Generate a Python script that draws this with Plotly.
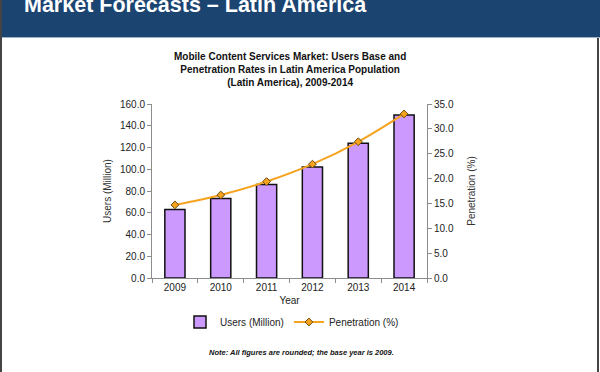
import plotly.graph_objects as go

years = ["2009", "2010", "2011", "2012", "2013", "2014"]
users = [63.0, 73.0, 86.0, 102.0, 124.0, 150.0]
penetration = [14.7, 16.7, 19.4, 22.9, 27.4, 33.0]
y_ticks = [0, 20, 40, 60, 80, 100, 120, 140, 160]
y2_ticks = [0, 5, 10, 15, 20, 25, 30, 35]

W, H = 600, 372
L, R, T, B = 152, 427, 104, 278  # plot area pixel box

def px(x):
    return (x - L) / (R - L)

def py(y):
    return (B - y) / (B - T)

FONT = "Arial, 'Liberation Sans', sans-serif"

fig = go.Figure()
fig.add_trace(go.Bar(
    x=years, y=users, name="Users (Million)",
    marker=dict(color="#cc99ff", line=dict(color="#111111", width=1.5)),
    width=0.44,
))
fig.add_trace(go.Scatter(
    x=years, y=penetration, name="Penetration (%)", yaxis="y2",
    mode="lines+markers",
    line=dict(color="#f5a21e", width=2, shape="spline"),
    marker=dict(symbol="diamond", size=6, color="#f5a21e",
                line=dict(color="#6b4a10", width=1)),
))

shapes = [
    dict(type="rect", xref="paper", yref="paper",
         x0=px(0), x1=px(W), y0=py(37), y1=py(0),
         fillcolor="#1b4471", line=dict(width=0), layer="below"),
    dict(type="line", xref="paper", yref="paper",
         x0=px(0), x1=px(W), y0=py(37.5), y1=py(37.5),
         line=dict(color="#9fb3c8", width=1)),
    dict(type="line", xref="paper", yref="paper",
         x0=px(1), x1=px(1), y0=py(0), y1=py(H),
         line=dict(color="#444444", width=2)),
    dict(type="line", xref="paper", yref="paper",
         x0=px(598), x1=px(598), y0=py(38), y1=py(H),
         line=dict(color="#444444", width=2)),
]

annotations = [
    dict(text="<b>Market Forecasts \u2013 Latin America</b>", x=px(22), y=py(5),
         xref="paper", yref="paper", xanchor="left", yanchor="middle",
         showarrow=False, font=dict(family=FONT, size=21.5, color="#ffffff")),
    dict(text="<b>Mobile Content Services Market: Users Base and<br>"
              "Penetration Rates in Latin America Population<br>"
              "(Latin America), 2009-2014</b>",
         x=px(290), y=py(70), xref="paper", yref="paper",
         xanchor="center", yanchor="middle", showarrow=False,
         font=dict(family=FONT, size=10, color="#111111")),
    dict(text="<b><i>Note: All figures are rounded; the base year is 2009.</i></b>",
         x=px(301), y=py(352), xref="paper", yref="paper",
         xanchor="center", yanchor="middle", showarrow=False,
         font=dict(family=FONT, size=7.5, color="#111111")),
    dict(text="<b><i>Source: Frost & Sullivan</i></b>",
         x=px(352), y=py(375), xref="paper", yref="paper",
         xanchor="center", yanchor="middle", showarrow=False,
         font=dict(family=FONT, size=7.5, color="#111111")),
]

axis_common = dict(
    showgrid=False, zeroline=False, showline=True, linecolor="#8c8c8c",
    linewidth=1, ticks="outside", tickcolor="#8c8c8c", ticklen=4,
    tickfont=dict(family=FONT, size=10, color="#222222"),
)

fig.update_layout(
    width=W, height=H,
    margin=dict(l=L, r=W - R, t=T, b=H - B, pad=0),
    paper_bgcolor="#ffffff", plot_bgcolor="#ffffff",
    font=dict(family=FONT, size=10, color="#222222"),
    showlegend=True,
    legend=dict(orientation="h", x=px(292), y=py(322), xanchor="center",
                yanchor="middle", font=dict(family=FONT, size=10, color="#222222"),
                itemwidth=30, tracegroupgap=0, bgcolor="rgba(0,0,0,0)"),
    bargap=0.56,
    shapes=shapes,
    annotations=annotations,
    xaxis=dict(**axis_common, type="category", tickson="boundaries",
               title=dict(text="Year", font=dict(family=FONT, size=10, color="#222222"),
                          standoff=4)),
    yaxis=dict(**axis_common, range=[0, 160], tickvals=y_ticks,
               ticktext=[f"{v:.1f}" for v in y_ticks],
               title=dict(text="Users (Million)", font=dict(family=FONT, size=10, color="#333333"),
                          standoff=6)),
    yaxis2=dict(**axis_common, range=[0, 35], tickvals=y2_ticks,
                ticktext=[f"{v:.1f}" for v in y2_ticks], overlaying="y", side="right",
                title=dict(text="Penetration (%)", font=dict(family=FONT, size=10, color="#333333"),
                           standoff=15)),
)

fig.write_html("out.html", config={"displayModeBar": False},
               post_script="document.body.style.margin='0';document.body.style.overflow='hidden';")
